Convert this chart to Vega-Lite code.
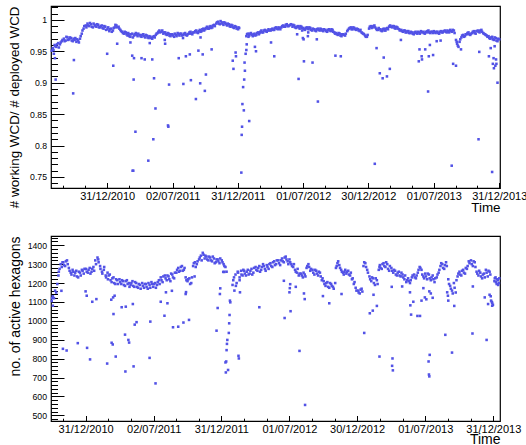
{
  "$schema": "https://vega.github.io/schema/vega-lite/v6.json",
  "padding": {"left": 6, "top": 5, "right": 0, "bottom": 0},
  "bounds": "flush",
  "spacing": 48,
  "config": {
    "view": {"stroke": "#000", "strokeWidth": 1.2},
    "axis": {"grid": false, "domain": false, "labelFont": "Liberation Sans", "titleFont": "Liberation Sans", "labelColor": "#000", "titleColor": "#000", "tickColor": "#000", "titleFontWeight": "normal"}
  },
  "datasets": {
    "wcd": [
      {"t":"2010-07-29","v":0.951},
      {"t":"2010-08-01","v":0.955},{"t":"2010-08-06","v":0.960},{"t":"2010-08-11","v":0.957},{"t":"2010-08-16","v":0.963},{"t":"2010-08-21","v":0.961},{"t":"2010-08-26","v":0.966},
      {"t":"2010-09-01","v":0.970},{"t":"2010-09-06","v":0.967},{"t":"2010-09-11","v":0.972},{"t":"2010-09-16","v":0.969},{"t":"2010-09-21","v":0.971},{"t":"2010-09-26","v":0.966},
      {"t":"2010-10-01","v":0.968},{"t":"2010-10-06","v":0.965},{"t":"2010-10-11","v":0.967},{"t":"2010-10-16","v":0.970},{"t":"2010-10-21","v":0.978},{"t":"2010-10-26","v":0.986},
      {"t":"2010-11-01","v":0.991},{"t":"2010-11-06","v":0.994},{"t":"2010-11-11","v":0.990},{"t":"2010-11-16","v":0.993},{"t":"2010-11-21","v":0.988},{"t":"2010-11-26","v":0.992},
      {"t":"2010-12-01","v":0.989},{"t":"2010-12-06","v":0.992},{"t":"2010-12-11","v":0.988},{"t":"2010-12-16","v":0.991},{"t":"2010-12-21","v":0.986},{"t":"2010-12-26","v":0.989},
      {"t":"2011-01-01","v":0.985},{"t":"2011-01-06","v":0.982},{"t":"2011-01-11","v":0.986},{"t":"2011-01-16","v":0.983},{"t":"2011-01-21","v":0.988},{"t":"2011-01-26","v":0.991},
      {"t":"2011-02-01","v":0.989},{"t":"2011-02-06","v":0.984},{"t":"2011-02-11","v":0.981},{"t":"2011-02-16","v":0.978},{"t":"2011-02-21","v":0.980},{"t":"2011-02-26","v":0.975},
      {"t":"2011-03-01","v":0.977},{"t":"2011-03-06","v":0.973},{"t":"2011-03-11","v":0.978},{"t":"2011-03-16","v":0.975},{"t":"2011-03-21","v":0.979},{"t":"2011-03-26","v":0.974},
      {"t":"2011-04-01","v":0.976},{"t":"2011-04-06","v":0.973},{"t":"2011-04-11","v":0.977},{"t":"2011-04-16","v":0.972},{"t":"2011-04-21","v":0.975},{"t":"2011-04-26","v":0.971},
      {"t":"2011-05-01","v":0.973},{"t":"2011-05-06","v":0.970},{"t":"2011-05-11","v":0.974},{"t":"2011-05-16","v":0.976},{"t":"2011-05-21","v":0.979},{"t":"2011-05-26","v":0.983},
      {"t":"2011-06-01","v":0.981},{"t":"2011-06-06","v":0.978},{"t":"2011-06-11","v":0.980},{"t":"2011-06-16","v":0.976},{"t":"2011-06-21","v":0.978},{"t":"2011-06-26","v":0.974},
      {"t":"2011-07-01","v":0.977},{"t":"2011-07-06","v":0.973},{"t":"2011-07-11","v":0.976},{"t":"2011-07-16","v":0.979},{"t":"2011-07-21","v":0.975},{"t":"2011-07-26","v":0.978},
      {"t":"2011-08-01","v":0.976},{"t":"2011-08-06","v":0.979},{"t":"2011-08-11","v":0.975},{"t":"2011-08-16","v":0.978},{"t":"2011-08-21","v":0.981},{"t":"2011-08-26","v":0.977},
      {"t":"2011-09-01","v":0.980},{"t":"2011-09-06","v":0.983},{"t":"2011-09-11","v":0.979},{"t":"2011-09-16","v":0.984},{"t":"2011-09-21","v":0.982},{"t":"2011-09-26","v":0.986},
      {"t":"2011-10-01","v":0.985},{"t":"2011-10-06","v":0.989},{"t":"2011-10-11","v":0.986},{"t":"2011-10-16","v":0.990},{"t":"2011-10-21","v":0.988},{"t":"2011-10-26","v":0.992},
      {"t":"2011-11-01","v":0.994},{"t":"2011-11-06","v":0.997},{"t":"2011-11-11","v":0.993},{"t":"2011-11-16","v":0.996},{"t":"2011-11-21","v":0.992},{"t":"2011-11-26","v":0.995},
      {"t":"2011-12-01","v":0.991},{"t":"2011-12-06","v":0.993},{"t":"2011-12-11","v":0.989},{"t":"2011-12-16","v":0.991},{"t":"2011-12-21","v":0.987},{"t":"2011-12-26","v":0.989},
      {"t":"2012-01-01","v":0.985},{"t":"2012-01-04","v":0.987},{"t":"2012-01-24","v":0.974},{"t":"2012-01-28","v":0.978},
      {"t":"2012-02-01","v":0.975},{"t":"2012-02-06","v":0.979},{"t":"2012-02-11","v":0.974},{"t":"2012-02-16","v":0.978},{"t":"2012-02-21","v":0.976},{"t":"2012-02-26","v":0.980},
      {"t":"2012-03-01","v":0.979},{"t":"2012-03-06","v":0.983},{"t":"2012-03-11","v":0.980},{"t":"2012-03-16","v":0.984},{"t":"2012-03-21","v":0.981},{"t":"2012-03-26","v":0.985},
      {"t":"2012-04-01","v":0.983},{"t":"2012-04-06","v":0.986},{"t":"2012-04-11","v":0.984},{"t":"2012-04-16","v":0.988},{"t":"2012-04-21","v":0.985},{"t":"2012-04-26","v":0.987},
      {"t":"2012-05-01","v":0.988},{"t":"2012-05-06","v":0.991},{"t":"2012-05-11","v":0.989},{"t":"2012-05-16","v":0.993},{"t":"2012-05-21","v":0.990},{"t":"2012-05-26","v":0.992},
      {"t":"2012-06-01","v":0.989},{"t":"2012-06-06","v":0.991},{"t":"2012-06-11","v":0.987},{"t":"2012-06-16","v":0.990},{"t":"2012-06-21","v":0.986},{"t":"2012-06-26","v":0.989},
      {"t":"2012-07-01","v":0.987},{"t":"2012-07-06","v":0.984},{"t":"2012-07-11","v":0.988},{"t":"2012-07-16","v":0.985},{"t":"2012-07-21","v":0.987},{"t":"2012-07-26","v":0.983},
      {"t":"2012-08-01","v":0.985},{"t":"2012-08-06","v":0.982},{"t":"2012-08-11","v":0.986},{"t":"2012-08-16","v":0.983},{"t":"2012-08-21","v":0.985},{"t":"2012-08-26","v":0.982},
      {"t":"2012-09-01","v":0.984},{"t":"2012-09-06","v":0.981},{"t":"2012-09-11","v":0.985},{"t":"2012-09-16","v":0.982},{"t":"2012-09-21","v":0.984},{"t":"2012-09-26","v":0.980},
      {"t":"2012-10-01","v":0.979},{"t":"2012-10-06","v":0.976},{"t":"2012-10-11","v":0.978},{"t":"2012-10-16","v":0.974},{"t":"2012-10-21","v":0.977},{"t":"2012-10-26","v":0.975},
      {"t":"2012-11-01","v":0.982},{"t":"2012-11-06","v":0.986},{"t":"2012-11-11","v":0.988},{"t":"2012-11-16","v":0.985},{"t":"2012-11-21","v":0.987},{"t":"2012-11-26","v":0.984},
      {"t":"2012-12-01","v":0.985},{"t":"2012-12-06","v":0.982},{"t":"2012-12-11","v":0.980},{"t":"2012-12-16","v":0.978},{"t":"2012-12-21","v":0.975},{"t":"2012-12-26","v":0.973},
      {"t":"2013-01-01","v":0.986},{"t":"2013-01-06","v":0.990},{"t":"2013-01-11","v":0.988},{"t":"2013-01-16","v":0.991},{"t":"2013-01-21","v":0.986},{"t":"2013-01-26","v":0.984},
      {"t":"2013-02-01","v":0.985},{"t":"2013-02-06","v":0.982},{"t":"2013-02-11","v":0.986},{"t":"2013-02-16","v":0.983},{"t":"2013-02-21","v":0.987},{"t":"2013-02-26","v":0.989},
      {"t":"2013-03-01","v":0.991},{"t":"2013-03-06","v":0.988},{"t":"2013-03-11","v":0.990},{"t":"2013-03-16","v":0.986},{"t":"2013-03-21","v":0.988},{"t":"2013-03-26","v":0.985},
      {"t":"2013-04-01","v":0.984},{"t":"2013-04-06","v":0.981},{"t":"2013-04-11","v":0.983},{"t":"2013-04-16","v":0.980},{"t":"2013-04-21","v":0.982},{"t":"2013-04-26","v":0.979},
      {"t":"2013-05-01","v":0.980},{"t":"2013-05-06","v":0.977},{"t":"2013-05-11","v":0.981},{"t":"2013-05-16","v":0.978},{"t":"2013-05-21","v":0.980},{"t":"2013-05-26","v":0.982},
      {"t":"2013-06-01","v":0.981},{"t":"2013-06-06","v":0.978},{"t":"2013-06-11","v":0.980},{"t":"2013-06-16","v":0.983},{"t":"2013-06-21","v":0.979},{"t":"2013-06-26","v":0.981},
      {"t":"2013-07-01","v":0.982},{"t":"2013-07-06","v":0.979},{"t":"2013-07-11","v":0.981},{"t":"2013-07-16","v":0.978},{"t":"2013-07-21","v":0.982},{"t":"2013-07-26","v":0.980},
      {"t":"2013-08-01","v":0.983},{"t":"2013-08-06","v":0.980},{"t":"2013-08-11","v":0.982},{"t":"2013-08-16","v":0.984},{"t":"2013-08-21","v":0.981},{"t":"2013-08-26","v":0.983},
      {"t":"2013-09-01","v":0.968},{"t":"2013-09-04","v":0.962},{"t":"2013-09-08","v":0.957},{"t":"2013-09-11","v":0.965},{"t":"2013-09-16","v":0.972},{"t":"2013-09-21","v":0.976},{"t":"2013-09-26","v":0.974},
      {"t":"2013-10-01","v":0.977},{"t":"2013-10-06","v":0.980},{"t":"2013-10-11","v":0.976},{"t":"2013-10-16","v":0.979},{"t":"2013-10-21","v":0.982},{"t":"2013-10-26","v":0.978},
      {"t":"2013-11-01","v":0.983},{"t":"2013-11-06","v":0.980},{"t":"2013-11-11","v":0.984},{"t":"2013-11-16","v":0.979},{"t":"2013-11-21","v":0.977},{"t":"2013-11-26","v":0.975},
      {"t":"2013-12-01","v":0.974},{"t":"2013-12-06","v":0.970},{"t":"2013-12-11","v":0.973},{"t":"2013-12-16","v":0.968},{"t":"2013-12-21","v":0.971},{"t":"2013-12-26","v":0.966},{"t":"2013-12-31","v":0.969},
      {"t":"2010-08-03","v":0.952},{"t":"2010-08-08","v":0.958},{"t":"2010-08-13","v":0.961},{"t":"2010-08-18","v":0.956},{"t":"2010-08-23","v":0.964},{"t":"2010-08-28","v":0.968},
      {"t":"2010-09-03","v":0.966},{"t":"2010-09-08","v":0.973},{"t":"2010-09-13","v":0.968},{"t":"2010-09-18","v":0.972},{"t":"2010-09-23","v":0.967},{"t":"2010-09-28","v":0.970},
      {"t":"2010-10-03","v":0.971},{"t":"2010-10-08","v":0.969},{"t":"2010-10-13","v":0.964},{"t":"2010-10-18","v":0.974},{"t":"2010-10-23","v":0.983},{"t":"2010-10-28","v":0.990},
      {"t":"2010-11-03","v":0.988},{"t":"2010-11-08","v":0.991},{"t":"2010-11-13","v":0.995},{"t":"2010-11-18","v":0.989},{"t":"2010-11-23","v":0.994},{"t":"2010-11-28","v":0.990},
      {"t":"2010-12-03","v":0.993},{"t":"2010-12-08","v":0.988},{"t":"2010-12-13","v":0.990},{"t":"2010-12-18","v":0.987},{"t":"2010-12-23","v":0.990},{"t":"2010-12-28","v":0.984},
      {"t":"2011-01-03","v":0.988},{"t":"2011-01-08","v":0.985},{"t":"2011-01-13","v":0.981},{"t":"2011-01-18","v":0.987},{"t":"2011-01-23","v":0.992},{"t":"2011-01-28","v":0.988},
      {"t":"2011-02-03","v":0.986},{"t":"2011-02-08","v":0.982},{"t":"2011-02-13","v":0.979},{"t":"2011-02-18","v":0.981},{"t":"2011-02-23","v":0.977},{"t":"2011-02-28","v":0.979},
      {"t":"2011-03-03","v":0.974},{"t":"2011-03-08","v":0.977},{"t":"2011-03-13","v":0.972},{"t":"2011-03-18","v":0.977},{"t":"2011-03-23","v":0.976},{"t":"2011-03-28","v":0.978},
      {"t":"2011-04-03","v":0.974},{"t":"2011-04-08","v":0.976},{"t":"2011-04-13","v":0.974},{"t":"2011-04-18","v":0.976},{"t":"2011-04-23","v":0.972},{"t":"2011-04-28","v":0.974},
      {"t":"2011-05-03","v":0.971},{"t":"2011-05-08","v":0.973},{"t":"2011-05-13","v":0.972},{"t":"2011-05-18","v":0.978},{"t":"2011-05-23","v":0.981},{"t":"2011-05-28","v":0.980},
      {"t":"2011-06-03","v":0.983},{"t":"2011-06-08","v":0.980},{"t":"2011-06-13","v":0.977},{"t":"2011-06-18","v":0.979},{"t":"2011-06-23","v":0.975},{"t":"2011-06-28","v":0.977},
      {"t":"2011-07-03","v":0.975},{"t":"2011-07-08","v":0.978},{"t":"2011-07-13","v":0.974},{"t":"2011-07-18","v":0.977},{"t":"2011-07-23","v":0.978},{"t":"2011-07-28","v":0.975},
      {"t":"2011-08-03","v":0.978},{"t":"2011-08-08","v":0.976},{"t":"2011-08-13","v":0.977},{"t":"2011-08-18","v":0.980},{"t":"2011-08-23","v":0.978},{"t":"2011-08-28","v":0.980},
      {"t":"2011-09-03","v":0.982},{"t":"2011-09-08","v":0.980},{"t":"2011-09-13","v":0.982},{"t":"2011-09-18","v":0.981},{"t":"2011-09-23","v":0.985},{"t":"2011-09-28","v":0.983},
      {"t":"2011-10-03","v":0.987},{"t":"2011-10-08","v":0.986},{"t":"2011-10-13","v":0.989},{"t":"2011-10-18","v":0.987},{"t":"2011-10-23","v":0.991},{"t":"2011-10-28","v":0.990},
      {"t":"2011-11-03","v":0.996},{"t":"2011-11-08","v":0.994},{"t":"2011-11-13","v":0.998},{"t":"2011-11-18","v":0.994},{"t":"2011-11-23","v":0.996},{"t":"2011-11-28","v":0.993},
      {"t":"2011-12-03","v":0.994},{"t":"2011-12-08","v":0.990},{"t":"2011-12-13","v":0.992},{"t":"2011-12-18","v":0.988},{"t":"2011-12-23","v":0.990},{"t":"2011-12-28","v":0.986},
      {"t":"2012-01-02","v":0.988},{"t":"2012-01-26","v":0.977},{"t":"2012-01-30","v":0.973},
      {"t":"2012-02-03","v":0.978},{"t":"2012-02-08","v":0.976},{"t":"2012-02-13","v":0.977},{"t":"2012-02-18","v":0.975},{"t":"2012-02-23","v":0.979},{"t":"2012-02-28","v":0.977},
      {"t":"2012-03-03","v":0.981},{"t":"2012-03-08","v":0.980},{"t":"2012-03-13","v":0.983},{"t":"2012-03-18","v":0.982},{"t":"2012-03-23","v":0.983},{"t":"2012-03-28","v":0.983},
      {"t":"2012-04-03","v":0.985},{"t":"2012-04-08","v":0.984},{"t":"2012-04-13","v":0.987},{"t":"2012-04-18","v":0.986},{"t":"2012-04-23","v":0.988},{"t":"2012-04-28","v":0.985},
      {"t":"2012-05-03","v":0.990},{"t":"2012-05-08","v":0.989},{"t":"2012-05-13","v":0.992},{"t":"2012-05-18","v":0.990},{"t":"2012-05-23","v":0.991},{"t":"2012-05-28","v":0.993},
      {"t":"2012-06-03","v":0.992},{"t":"2012-06-08","v":0.988},{"t":"2012-06-13","v":0.989},{"t":"2012-06-18","v":0.988},{"t":"2012-06-23","v":0.990},{"t":"2012-06-28","v":0.987},
      {"t":"2012-07-03","v":0.985},{"t":"2012-07-08","v":0.987},{"t":"2012-07-13","v":0.986},{"t":"2012-07-18","v":0.988},{"t":"2012-07-23","v":0.984},{"t":"2012-07-28","v":0.986},
      {"t":"2012-08-03","v":0.983},{"t":"2012-08-08","v":0.985},{"t":"2012-08-13","v":0.984},{"t":"2012-08-18","v":0.986},{"t":"2012-08-23","v":0.983},{"t":"2012-08-28","v":0.985},
      {"t":"2012-09-03","v":0.982},{"t":"2012-09-08","v":0.984},{"t":"2012-09-13","v":0.983},{"t":"2012-09-18","v":0.985},{"t":"2012-09-23","v":0.981},{"t":"2012-09-28","v":0.978},
      {"t":"2012-10-03","v":0.977},{"t":"2012-10-08","v":0.979},{"t":"2012-10-13","v":0.975},{"t":"2012-10-18","v":0.977},{"t":"2012-10-23","v":0.976},{"t":"2012-10-28","v":0.978},
      {"t":"2012-11-03","v":0.984},{"t":"2012-11-08","v":0.987},{"t":"2012-11-13","v":0.985},{"t":"2012-11-18","v":0.988},{"t":"2012-11-23","v":0.985},{"t":"2012-11-28","v":0.986},
      {"t":"2012-12-03","v":0.983},{"t":"2012-12-08","v":0.984},{"t":"2012-12-13","v":0.979},{"t":"2012-12-18","v":0.977},{"t":"2012-12-23","v":0.973},{"t":"2012-12-28","v":0.976},
      {"t":"2013-01-03","v":0.989},{"t":"2013-01-08","v":0.987},{"t":"2013-01-13","v":0.990},{"t":"2013-01-18","v":0.988},{"t":"2013-01-23","v":0.984},{"t":"2013-01-28","v":0.987},
      {"t":"2013-02-03","v":0.983},{"t":"2013-02-08","v":0.985},{"t":"2013-02-13","v":0.983},{"t":"2013-02-18","v":0.986},{"t":"2013-02-23","v":0.985},{"t":"2013-02-28","v":0.990},
      {"t":"2013-03-03","v":0.989},{"t":"2013-03-08","v":0.990},{"t":"2013-03-13","v":0.987},{"t":"2013-03-18","v":0.989},{"t":"2013-03-23","v":0.986},{"t":"2013-03-28","v":0.983},
      {"t":"2013-04-03","v":0.982},{"t":"2013-04-08","v":0.983},{"t":"2013-04-13","v":0.980},{"t":"2013-04-18","v":0.982},{"t":"2013-04-23","v":0.979},{"t":"2013-04-28","v":0.981},
      {"t":"2013-05-03","v":0.978},{"t":"2013-05-08","v":0.980},{"t":"2013-05-13","v":0.979},{"t":"2013-05-18","v":0.981},{"t":"2013-05-23","v":0.978},{"t":"2013-05-28","v":0.980},
      {"t":"2013-06-03","v":0.979},{"t":"2013-06-08","v":0.981},{"t":"2013-06-13","v":0.982},{"t":"2013-06-18","v":0.980},{"t":"2013-06-23","v":0.981},{"t":"2013-06-28","v":0.979},
      {"t":"2013-07-03","v":0.980},{"t":"2013-07-08","v":0.981},{"t":"2013-07-13","v":0.979},{"t":"2013-07-18","v":0.981},{"t":"2013-07-23","v":0.980},{"t":"2013-07-28","v":0.982},
      {"t":"2013-08-03","v":0.981},{"t":"2013-08-08","v":0.983},{"t":"2013-08-13","v":0.980},{"t":"2013-08-18","v":0.982},{"t":"2013-08-23","v":0.984},{"t":"2013-08-28","v":0.979},
      {"t":"2013-09-03","v":0.965},{"t":"2013-09-06","v":0.959},{"t":"2013-09-13","v":0.969},{"t":"2013-09-18","v":0.975},{"t":"2013-09-23","v":0.973},{"t":"2013-09-28","v":0.977},
      {"t":"2013-10-03","v":0.979},{"t":"2013-10-08","v":0.977},{"t":"2013-10-13","v":0.978},{"t":"2013-10-18","v":0.981},{"t":"2013-10-23","v":0.979},{"t":"2013-10-28","v":0.982},
      {"t":"2013-11-03","v":0.981},{"t":"2013-11-08","v":0.983},{"t":"2013-11-13","v":0.981},{"t":"2013-11-18","v":0.978},{"t":"2013-11-23","v":0.976},{"t":"2013-11-28","v":0.973},
      {"t":"2013-12-03","v":0.971},{"t":"2013-12-08","v":0.972},{"t":"2013-12-13","v":0.969},{"t":"2013-12-18","v":0.972},{"t":"2013-12-23","v":0.967},{"t":"2013-12-28","v":0.970},
      {"t":"2010-08-04","v":0.946},{"t":"2010-08-07","v":0.939},{"t":"2010-08-09","v":0.905},{"t":"2010-09-29","v":0.936},{"t":"2010-09-27","v":0.883},
      {"t":"2010-12-31","v":0.946},{"t":"2011-01-17","v":0.927},{"t":"2011-01-28","v":0.962},{"t":"2011-03-06","v":0.964},{"t":"2011-03-11","v":0.943},
      {"t":"2011-03-16","v":0.939},{"t":"2011-03-15","v":0.905},{"t":"2011-03-20","v":0.822},{"t":"2011-03-12","v":0.760},{"t":"2011-03-14","v":0.760},
      {"t":"2011-04-06","v":0.939},{"t":"2011-04-15","v":0.937},{"t":"2011-04-29","v":0.963},{"t":"2011-05-06","v":0.937},{"t":"2011-05-11","v":0.907},
      {"t":"2011-05-15","v":0.859},{"t":"2011-05-09","v":0.810},{"t":"2011-04-25","v":0.776},{"t":"2011-06-10","v":0.968},{"t":"2011-06-11","v":0.962},
      {"t":"2011-07-19","v":0.939},{"t":"2011-08-08","v":0.942},{"t":"2011-08-19","v":0.945},{"t":"2011-09-12","v":0.951},{"t":"2011-09-24","v":0.945},
      {"t":"2011-10-19","v":0.953},{"t":"2011-09-18","v":0.972},{"t":"2011-07-31","v":0.971},{"t":"2011-06-22","v":0.897},{"t":"2011-08-01","v":0.898},
      {"t":"2011-08-22","v":0.904},{"t":"2011-09-17","v":0.899},{"t":"2011-10-03","v":0.913},{"t":"2011-09-30","v":0.887},{"t":"2011-09-05","v":0.874},
      {"t":"2011-06-19","v":0.832},{"t":"2011-06-20","v":0.830},{"t":"2011-12-17","v":0.935},{"t":"2011-12-19","v":0.922},{"t":"2011-12-25","v":0.948},
      {"t":"2011-12-26","v":0.942},{"t":"2012-01-25","v":0.961},{"t":"2012-01-24","v":0.952},{"t":"2012-01-22","v":0.946},{"t":"2012-01-19","v":0.932},
      {"t":"2012-01-20","v":0.919},{"t":"2012-01-18","v":0.905},{"t":"2012-01-15","v":0.893},{"t":"2012-01-13","v":0.866},{"t":"2012-01-17","v":0.856},
      {"t":"2012-01-12","v":0.830},{"t":"2012-01-11","v":0.817},{"t":"2012-01-10","v":0.757},{"t":"2012-02-01","v":0.839},{"t":"2012-02-17","v":0.957},
      {"t":"2012-02-20","v":0.950},{"t":"2012-04-02","v":0.964},{"t":"2012-04-11","v":0.942},{"t":"2012-06-14","v":0.977},{"t":"2012-06-30","v":0.971},
      {"t":"2012-07-02","v":0.969},{"t":"2012-07-14","v":0.974},{"t":"2012-07-15","v":0.980},{"t":"2012-06-28","v":0.983},{"t":"2012-08-08","v":0.969},
      {"t":"2012-07-03","v":0.934},{"t":"2012-07-27","v":0.932},{"t":"2012-06-18","v":0.906},{"t":"2012-08-11","v":0.870},{"t":"2012-09-29","v":0.943},
      {"t":"2012-10-14","v":0.942},{"t":"2013-01-22","v":0.955},{"t":"2013-02-11","v":0.940},{"t":"2013-01-31","v":0.915},{"t":"2013-02-08","v":0.907},
      {"t":"2013-02-20","v":0.910},{"t":"2013-01-17","v":0.771},{"t":"2013-02-28","v":0.922},{"t":"2013-03-31","v":0.968},{"t":"2013-05-22","v":0.953},
      {"t":"2013-06-07","v":0.953},{"t":"2013-05-28","v":0.942},{"t":"2013-05-29","v":0.937},{"t":"2013-05-20","v":0.934},{"t":"2013-06-17","v":0.942},
      {"t":"2013-06-29","v":0.944},{"t":"2013-06-20","v":0.960},{"t":"2013-07-09","v":0.966},{"t":"2013-07-20","v":0.967},{"t":"2013-06-15","v":0.886},
      {"t":"2013-08-24","v":0.930},{"t":"2013-09-01","v":0.927},{"t":"2013-09-15","v":0.953},{"t":"2013-08-20","v":0.768},{"t":"2013-11-05","v":0.949},
      {"t":"2013-11-03","v":0.810},{"t":"2013-12-02","v":0.942},{"t":"2013-12-15","v":0.939},{"t":"2013-12-22","v":0.937},{"t":"2013-12-13","v":0.930},
      {"t":"2013-12-20","v":0.927},{"t":"2013-12-16","v":0.923},{"t":"2013-12-23","v":0.930},{"t":"2013-12-26","v":0.900},{"t":"2013-12-11","v":0.758},
      {"t":"2013-12-07","v":0.955},{"t":"2013-12-18","v":0.958}
    ],
    "hex": [
      {"t":"2010-10-01","n":1105},{"t":"2010-10-04","n":1130},{"t":"2010-10-07","n":1120},{"t":"2010-10-10","n":1160},{"t":"2010-10-13","n":1150},{"t":"2010-10-16","n":1195},{"t":"2010-10-19","n":1240},{"t":"2010-10-22","n":1275},{"t":"2010-10-25","n":1300},{"t":"2010-10-28","n":1285},
      {"t":"2010-11-01","n":1310},{"t":"2010-11-06","n":1290},{"t":"2010-11-11","n":1320},{"t":"2010-11-16","n":1280},{"t":"2010-11-21","n":1255},{"t":"2010-11-26","n":1270},
      {"t":"2010-12-01","n":1240},{"t":"2010-12-06","n":1265},{"t":"2010-12-11","n":1230},{"t":"2010-12-16","n":1255},{"t":"2010-12-21","n":1270},{"t":"2010-12-26","n":1250},
      {"t":"2011-01-01","n":1275},{"t":"2011-01-06","n":1255},{"t":"2011-01-11","n":1280},{"t":"2011-01-16","n":1260},{"t":"2011-01-21","n":1285},{"t":"2011-01-26","n":1320},
      {"t":"2011-02-01","n":1335},{"t":"2011-02-04","n":1310},{"t":"2011-02-09","n":1275},{"t":"2011-02-14","n":1250},{"t":"2011-02-19","n":1285},{"t":"2011-02-24","n":1230},
      {"t":"2011-03-01","n":1220},{"t":"2011-03-06","n":1245},{"t":"2011-03-11","n":1205},{"t":"2011-03-16","n":1230},{"t":"2011-03-21","n":1195},{"t":"2011-03-26","n":1215},
      {"t":"2011-04-01","n":1220},{"t":"2011-04-06","n":1195},{"t":"2011-04-11","n":1210},{"t":"2011-04-16","n":1185},{"t":"2011-04-21","n":1215},{"t":"2011-04-26","n":1200},
      {"t":"2011-05-01","n":1190},{"t":"2011-05-06","n":1210},{"t":"2011-05-11","n":1180},{"t":"2011-05-16","n":1200},{"t":"2011-05-21","n":1175},{"t":"2011-05-26","n":1190},
      {"t":"2011-06-01","n":1200},{"t":"2011-06-06","n":1175},{"t":"2011-06-11","n":1195},{"t":"2011-06-16","n":1170},{"t":"2011-06-21","n":1190},{"t":"2011-06-26","n":1205},
      {"t":"2011-07-01","n":1180},{"t":"2011-07-06","n":1200},{"t":"2011-07-11","n":1190},{"t":"2011-07-16","n":1215},{"t":"2011-07-21","n":1230},{"t":"2011-07-26","n":1205},
      {"t":"2011-08-01","n":1240},{"t":"2011-08-06","n":1215},{"t":"2011-08-11","n":1235},{"t":"2011-08-16","n":1210},{"t":"2011-08-21","n":1245},{"t":"2011-08-26","n":1225},
      {"t":"2011-09-01","n":1255},{"t":"2011-09-06","n":1280},{"t":"2011-09-11","n":1265},{"t":"2011-09-16","n":1290},{"t":"2011-09-21","n":1270},{"t":"2011-09-26","n":1230},
      {"t":"2011-10-01","n":1210},{"t":"2011-10-06","n":1225},{"t":"2011-10-11","n":1200},{"t":"2011-10-16","n":1290},{"t":"2011-10-21","n":1310},{"t":"2011-10-26","n":1300},
      {"t":"2011-11-01","n":1325},{"t":"2011-11-06","n":1345},{"t":"2011-11-11","n":1360},{"t":"2011-11-16","n":1330},{"t":"2011-11-21","n":1340},{"t":"2011-11-26","n":1320},
      {"t":"2011-12-01","n":1335},{"t":"2011-12-06","n":1315},{"t":"2011-12-11","n":1330},{"t":"2011-12-16","n":1310},{"t":"2011-12-21","n":1325},{"t":"2011-12-26","n":1305},
      {"t":"2012-01-01","n":1320},{"t":"2012-01-06","n":1300},{"t":"2012-01-11","n":1285},{"t":"2012-01-14","n":1260},{"t":"2012-01-30","n":1190},
      {"t":"2012-02-01","n":1215},{"t":"2012-02-04","n":1160},{"t":"2012-02-07","n":1245},{"t":"2012-02-10","n":1200},{"t":"2012-02-14","n":1255},{"t":"2012-02-18","n":1230},{"t":"2012-02-22","n":1265},{"t":"2012-02-26","n":1240},
      {"t":"2012-03-01","n":1265},{"t":"2012-03-06","n":1240},{"t":"2012-03-11","n":1270},{"t":"2012-03-16","n":1250},{"t":"2012-03-21","n":1275},{"t":"2012-03-26","n":1255},
      {"t":"2012-04-01","n":1285},{"t":"2012-04-06","n":1265},{"t":"2012-04-11","n":1290},{"t":"2012-04-16","n":1270},{"t":"2012-04-21","n":1300},{"t":"2012-04-26","n":1275},
      {"t":"2012-05-01","n":1295},{"t":"2012-05-06","n":1275},{"t":"2012-05-11","n":1305},{"t":"2012-05-16","n":1285},{"t":"2012-05-21","n":1315},{"t":"2012-05-26","n":1300},
      {"t":"2012-06-01","n":1320},{"t":"2012-06-06","n":1295},{"t":"2012-06-11","n":1330},{"t":"2012-06-16","n":1310},{"t":"2012-06-21","n":1340},{"t":"2012-06-26","n":1315},
      {"t":"2012-07-01","n":1325},{"t":"2012-07-06","n":1300},{"t":"2012-07-11","n":1285},{"t":"2012-07-16","n":1270},{"t":"2012-07-21","n":1255},{"t":"2012-07-26","n":1240},
      {"t":"2012-08-01","n":1250},{"t":"2012-08-06","n":1230},{"t":"2012-08-11","n":1245},{"t":"2012-08-16","n":1280},{"t":"2012-08-21","n":1300},{"t":"2012-08-26","n":1265},
      {"t":"2012-09-01","n":1270},{"t":"2012-09-06","n":1245},{"t":"2012-09-11","n":1265},{"t":"2012-09-16","n":1240},{"t":"2012-09-21","n":1255},{"t":"2012-09-26","n":1215},
      {"t":"2012-10-01","n":1210},{"t":"2012-10-06","n":1185},{"t":"2012-10-11","n":1205},{"t":"2012-10-16","n":1175},{"t":"2012-10-21","n":1195},{"t":"2012-10-26","n":1180},
      {"t":"2012-11-01","n":1200},{"t":"2012-11-05","n":1290},{"t":"2012-11-09","n":1315},{"t":"2012-11-14","n":1280},{"t":"2012-11-19","n":1260},{"t":"2012-11-24","n":1245},{"t":"2012-11-28","n":1270},
      {"t":"2012-12-01","n":1250},{"t":"2012-12-06","n":1265},{"t":"2012-12-11","n":1240},{"t":"2012-12-16","n":1220},{"t":"2012-12-21","n":1195},{"t":"2012-12-26","n":1175},
      {"t":"2013-01-01","n":1160},{"t":"2013-01-06","n":1145},{"t":"2013-01-11","n":1170},{"t":"2013-01-16","n":1290},{"t":"2013-01-21","n":1305},{"t":"2013-01-26","n":1270},
      {"t":"2013-02-01","n":1235},{"t":"2013-02-06","n":1210},{"t":"2013-02-11","n":1225},{"t":"2013-02-16","n":1190},{"t":"2013-02-21","n":1215},{"t":"2013-02-26","n":1270},
      {"t":"2013-03-01","n":1295},{"t":"2013-03-06","n":1275},{"t":"2013-03-11","n":1305},{"t":"2013-03-16","n":1285},{"t":"2013-03-21","n":1300},{"t":"2013-03-26","n":1265},
      {"t":"2013-04-01","n":1280},{"t":"2013-04-06","n":1255},{"t":"2013-04-11","n":1265},{"t":"2013-04-16","n":1240},{"t":"2013-04-21","n":1260},{"t":"2013-04-26","n":1235},
      {"t":"2013-05-01","n":1245},{"t":"2013-05-06","n":1220},{"t":"2013-05-11","n":1205},{"t":"2013-05-16","n":1225},{"t":"2013-05-21","n":1200},{"t":"2013-05-26","n":1230},
      {"t":"2013-06-01","n":1245},{"t":"2013-06-06","n":1225},{"t":"2013-06-11","n":1255},{"t":"2013-06-16","n":1285},{"t":"2013-06-21","n":1270},{"t":"2013-06-26","n":1235},
      {"t":"2013-07-01","n":1250},{"t":"2013-07-06","n":1220},{"t":"2013-07-11","n":1245},{"t":"2013-07-16","n":1215},{"t":"2013-07-21","n":1240},{"t":"2013-07-26","n":1205},
      {"t":"2013-08-01","n":1230},{"t":"2013-08-06","n":1255},{"t":"2013-08-11","n":1290},{"t":"2013-08-16","n":1300},{"t":"2013-08-21","n":1275},{"t":"2013-08-26","n":1310},
      {"t":"2013-09-01","n":1220},{"t":"2013-09-06","n":1185},{"t":"2013-09-11","n":1160},{"t":"2013-09-16","n":1200},{"t":"2013-09-21","n":1150},{"t":"2013-09-26","n":1235},
      {"t":"2013-10-01","n":1260},{"t":"2013-10-06","n":1240},{"t":"2013-10-11","n":1270},{"t":"2013-10-16","n":1250},{"t":"2013-10-21","n":1275},{"t":"2013-10-28","n":1305},
      {"t":"2013-11-01","n":1320},{"t":"2013-11-06","n":1290},{"t":"2013-11-11","n":1310},{"t":"2013-11-16","n":1260},{"t":"2013-11-21","n":1240},{"t":"2013-11-26","n":1255},
      {"t":"2013-12-01","n":1225},{"t":"2013-12-06","n":1250},{"t":"2013-12-11","n":1270},{"t":"2013-12-16","n":1235},{"t":"2013-12-21","n":1260},{"t":"2013-12-24","n":1130},{"t":"2013-12-27","n":1100},{"t":"2013-12-30","n":1085},
      {"t":"2014-01-03","n":1210},{"t":"2014-01-06","n":1230},{"t":"2014-01-09","n":1195},{"t":"2014-01-12","n":1215},{"t":"2014-01-15","n":1200},
      {"t":"2010-10-02","n":1120},{"t":"2010-10-20","n":1260},{"t":"2010-10-30","n":1310},
      {"t":"2010-11-03","n":1295},{"t":"2010-11-08","n":1315},{"t":"2010-11-13","n":1300},{"t":"2010-11-18","n":1265},{"t":"2010-11-23","n":1245},{"t":"2010-11-28","n":1260},
      {"t":"2010-12-03","n":1255},{"t":"2010-12-08","n":1235},{"t":"2010-12-13","n":1260},{"t":"2010-12-18","n":1240},{"t":"2010-12-23","n":1265},{"t":"2010-12-28","n":1275},
      {"t":"2011-01-03","n":1260},{"t":"2011-01-08","n":1270},{"t":"2011-01-13","n":1250},{"t":"2011-01-18","n":1275},{"t":"2011-01-23","n":1265},{"t":"2011-01-28","n":1300},
      {"t":"2011-02-03","n":1325},{"t":"2011-02-08","n":1290},{"t":"2011-02-13","n":1260},{"t":"2011-02-18","n":1270},{"t":"2011-02-23","n":1240},{"t":"2011-02-28","n":1255},
      {"t":"2011-03-03","n":1240},{"t":"2011-03-08","n":1215},{"t":"2011-03-13","n":1225},{"t":"2011-03-18","n":1200},{"t":"2011-03-23","n":1220},{"t":"2011-03-28","n":1195},
      {"t":"2011-04-03","n":1205},{"t":"2011-04-08","n":1215},{"t":"2011-04-13","n":1190},{"t":"2011-04-18","n":1210},{"t":"2011-04-23","n":1195},{"t":"2011-04-28","n":1180},
      {"t":"2011-05-03","n":1200},{"t":"2011-05-08","n":1185},{"t":"2011-05-13","n":1205},{"t":"2011-05-18","n":1180},{"t":"2011-05-23","n":1195},{"t":"2011-05-28","n":1170},
      {"t":"2011-06-03","n":1185},{"t":"2011-06-08","n":1195},{"t":"2011-06-13","n":1180},{"t":"2011-06-18","n":1200},{"t":"2011-06-23","n":1175},{"t":"2011-06-28","n":1195},
      {"t":"2011-07-03","n":1195},{"t":"2011-07-08","n":1175},{"t":"2011-07-13","n":1205},{"t":"2011-07-18","n":1195},{"t":"2011-07-23","n":1215},{"t":"2011-07-28","n":1235},
      {"t":"2011-08-03","n":1225},{"t":"2011-08-08","n":1240},{"t":"2011-08-13","n":1220},{"t":"2011-08-18","n":1250},{"t":"2011-08-23","n":1230},{"t":"2011-08-28","n":1255},
      {"t":"2011-09-03","n":1270},{"t":"2011-09-08","n":1260},{"t":"2011-09-13","n":1285},{"t":"2011-09-18","n":1265},{"t":"2011-09-23","n":1280},{"t":"2011-09-28","n":1215},
      {"t":"2011-10-03","n":1220},{"t":"2011-10-08","n":1195},{"t":"2011-10-13","n":1230},{"t":"2011-10-18","n":1305},{"t":"2011-10-23","n":1285},{"t":"2011-10-28","n":1315},
      {"t":"2011-11-03","n":1335},{"t":"2011-11-08","n":1320},{"t":"2011-11-13","n":1350},{"t":"2011-11-18","n":1345},{"t":"2011-11-23","n":1325},{"t":"2011-11-28","n":1340},
      {"t":"2011-12-03","n":1320},{"t":"2011-12-08","n":1340},{"t":"2011-12-13","n":1305},{"t":"2011-12-18","n":1325},{"t":"2011-12-23","n":1315},{"t":"2011-12-28","n":1330},
      {"t":"2012-01-03","n":1310},{"t":"2012-01-08","n":1290},
      {"t":"2012-02-03","n":1230},{"t":"2012-02-08","n":1185},{"t":"2012-02-13","n":1260},{"t":"2012-02-18","n":1215},{"t":"2012-02-23","n":1245},{"t":"2012-02-28","n":1270},
      {"t":"2012-03-03","n":1250},{"t":"2012-03-08","n":1260},{"t":"2012-03-13","n":1245},{"t":"2012-03-18","n":1265},{"t":"2012-03-23","n":1245},{"t":"2012-03-28","n":1280},
      {"t":"2012-04-03","n":1270},{"t":"2012-04-08","n":1280},{"t":"2012-04-13","n":1260},{"t":"2012-04-18","n":1285},{"t":"2012-04-23","n":1290},{"t":"2012-04-28","n":1265},
      {"t":"2012-05-03","n":1285},{"t":"2012-05-08","n":1300},{"t":"2012-05-13","n":1290},{"t":"2012-05-18","n":1310},{"t":"2012-05-23","n":1295},{"t":"2012-05-28","n":1320},
      {"t":"2012-06-03","n":1305},{"t":"2012-06-08","n":1320},{"t":"2012-06-13","n":1315},{"t":"2012-06-18","n":1335},{"t":"2012-06-23","n":1325},{"t":"2012-06-28","n":1300},
      {"t":"2012-07-03","n":1310},{"t":"2012-07-08","n":1290},{"t":"2012-07-13","n":1300},{"t":"2012-07-18","n":1260},{"t":"2012-07-23","n":1275},{"t":"2012-07-28","n":1250},
      {"t":"2012-08-03","n":1240},{"t":"2012-08-08","n":1255},{"t":"2012-08-13","n":1235},{"t":"2012-08-18","n":1290},{"t":"2012-08-23","n":1285},{"t":"2012-08-28","n":1275},
      {"t":"2012-09-03","n":1255},{"t":"2012-09-08","n":1270},{"t":"2012-09-13","n":1250},{"t":"2012-09-18","n":1260},{"t":"2012-09-23","n":1235},{"t":"2012-09-28","n":1225},
      {"t":"2012-10-03","n":1195},{"t":"2012-10-08","n":1200},{"t":"2012-10-13","n":1180},{"t":"2012-10-18","n":1200},{"t":"2012-10-23","n":1185},{"t":"2012-10-28","n":1170},
      {"t":"2012-11-03","n":1280},{"t":"2012-11-07","n":1305},{"t":"2012-11-12","n":1295},{"t":"2012-11-17","n":1270},{"t":"2012-11-22","n":1255},{"t":"2012-11-26","n":1260},
      {"t":"2012-12-03","n":1260},{"t":"2012-12-08","n":1245},{"t":"2012-12-13","n":1255},{"t":"2012-12-18","n":1225},{"t":"2012-12-23","n":1205},{"t":"2012-12-28","n":1160},
      {"t":"2013-01-03","n":1150},{"t":"2013-01-08","n":1165},{"t":"2013-01-13","n":1155},{"t":"2013-01-18","n":1310},{"t":"2013-01-23","n":1285},{"t":"2013-01-28","n":1255},
      {"t":"2013-02-03","n":1220},{"t":"2013-02-08","n":1230},{"t":"2013-02-13","n":1200},{"t":"2013-02-18","n":1225},{"t":"2013-02-23","n":1195},{"t":"2013-02-28","n":1285},
      {"t":"2013-03-03","n":1280},{"t":"2013-03-08","n":1300},{"t":"2013-03-13","n":1290},{"t":"2013-03-18","n":1310},{"t":"2013-03-23","n":1275},{"t":"2013-03-28","n":1290},
      {"t":"2013-04-03","n":1265},{"t":"2013-04-08","n":1270},{"t":"2013-04-13","n":1245},{"t":"2013-04-18","n":1255},{"t":"2013-04-23","n":1240},{"t":"2013-04-28","n":1255},
      {"t":"2013-05-03","n":1230},{"t":"2013-05-08","n":1240},{"t":"2013-05-13","n":1215},{"t":"2013-05-18","n":1210},{"t":"2013-05-23","n":1215},{"t":"2013-05-28","n":1240},
      {"t":"2013-06-03","n":1230},{"t":"2013-06-08","n":1240},{"t":"2013-06-13","n":1270},{"t":"2013-06-18","n":1280},{"t":"2013-06-23","n":1245},{"t":"2013-06-28","n":1225},
      {"t":"2013-07-03","n":1235},{"t":"2013-07-08","n":1250},{"t":"2013-07-13","n":1225},{"t":"2013-07-18","n":1230},{"t":"2013-07-23","n":1220},{"t":"2013-07-28","n":1225},
      {"t":"2013-08-03","n":1245},{"t":"2013-08-08","n":1270},{"t":"2013-08-13","n":1305},{"t":"2013-08-18","n":1280},{"t":"2013-08-23","n":1295},{"t":"2013-08-28","n":1290},
      {"t":"2013-09-03","n":1195},{"t":"2013-09-08","n":1170},{"t":"2013-09-13","n":1145},{"t":"2013-09-18","n":1175},{"t":"2013-09-23","n":1215},{"t":"2013-09-28","n":1250},
      {"t":"2013-10-03","n":1245},{"t":"2013-10-08","n":1265},{"t":"2013-10-13","n":1255},{"t":"2013-10-18","n":1280},{"t":"2013-10-23","n":1290},{"t":"2013-10-26","n":1315},
      {"t":"2013-11-03","n":1300},{"t":"2013-11-08","n":1315},{"t":"2013-11-13","n":1285},{"t":"2013-11-18","n":1250},{"t":"2013-11-23","n":1265},{"t":"2013-11-28","n":1235},
      {"t":"2013-12-03","n":1245},{"t":"2013-12-08","n":1230},{"t":"2013-12-13","n":1255},{"t":"2013-12-18","n":1265},{"t":"2013-12-23","n":1245},{"t":"2013-12-28","n":1095},
      {"t":"2014-01-04","n":1225},{"t":"2014-01-07","n":1205},{"t":"2014-01-10","n":1220},{"t":"2014-01-13","n":1190},{"t":"2014-01-16","n":1225},
      {"t":"2010-10-27","n":1159},{"t":"2010-10-04","n":1080},{"t":"2010-10-31","n":852},{"t":"2010-11-10","n":843},{"t":"2010-12-10","n":882},
      {"t":"2010-12-31","n":1156},{"t":"2011-01-03","n":1133},{"t":"2011-01-04","n":857},{"t":"2011-01-12","n":796},{"t":"2011-01-18","n":1101},
      {"t":"2011-01-29","n":1115},{"t":"2011-03-10","n":1112},{"t":"2011-03-15","n":1124},{"t":"2011-03-19","n":1133},{"t":"2011-03-16","n":1036},
      {"t":"2011-03-11","n":884},{"t":"2011-03-14","n":875},{"t":"2011-03-22","n":811},{"t":"2011-02-27","n":774},{"t":"2011-04-07","n":1072},
      {"t":"2011-04-18","n":1075},{"t":"2011-04-16","n":927},{"t":"2011-04-25","n":899},{"t":"2011-04-27","n":885},{"t":"2011-04-17","n":732},
      {"t":"2011-05-09","n":759},{"t":"2011-05-07","n":1089},{"t":"2011-05-12","n":980},{"t":"2011-05-17","n":993},{"t":"2011-06-21","n":804},
      {"t":"2011-06-23","n":996},{"t":"2011-07-07","n":669},{"t":"2011-07-21","n":1101},{"t":"2011-07-31","n":1027},{"t":"2011-08-04","n":1151},
      {"t":"2011-08-08","n":1093},{"t":"2011-08-23","n":966},{"t":"2011-09-06","n":969},{"t":"2011-09-20","n":991},{"t":"2011-10-05","n":1005},
      {"t":"2011-09-26","n":1142},{"t":"2011-09-27","n":1152},{"t":"2011-08-20","n":1159},{"t":"2011-10-20","n":1235},{"t":"2011-12-18","n":948},
      {"t":"2011-12-21","n":1068},{"t":"2011-12-27","n":1142},{"t":"2011-12-28","n":1172},{"t":"2012-01-05","n":1259},{"t":"2012-01-08","n":1259},
      {"t":"2012-01-23","n":1107},{"t":"2012-01-24","n":1098},{"t":"2012-01-22","n":1031},{"t":"2012-01-21","n":987},{"t":"2012-01-20","n":936},
      {"t":"2012-01-16","n":899},{"t":"2012-01-15","n":878},{"t":"2012-01-14","n":845},{"t":"2012-01-13","n":785},{"t":"2012-01-11","n":780},
      {"t":"2012-01-18","n":740},{"t":"2012-01-12","n":727},{"t":"2012-02-15","n":815},{"t":"2012-02-16","n":801},{"t":"2012-04-11","n":1072},
      {"t":"2012-02-19","n":1151},{"t":"2012-06-16","n":1212},{"t":"2012-07-03","n":1194},{"t":"2012-07-02","n":1173},{"t":"2012-07-01","n":1151},
      {"t":"2012-07-18","n":1180},{"t":"2012-08-09","n":1145},{"t":"2012-08-11","n":1115},{"t":"2012-07-04","n":1051},{"t":"2012-06-18","n":1015},
      {"t":"2012-07-28","n":841},{"t":"2012-08-12","n":555},{"t":"2012-09-29","n":1131},{"t":"2012-10-16","n":1093},{"t":"2012-11-18","n":1142},
      {"t":"2013-02-12","n":1138},{"t":"2013-02-21","n":1079},{"t":"2013-02-10","n":1054},{"t":"2013-02-02","n":1040},{"t":"2013-01-18","n":936},
      {"t":"2013-02-28","n":811},{"t":"2013-04-02","n":1180},{"t":"2013-04-30","n":1182},{"t":"2013-05-21","n":1151},{"t":"2013-05-22","n":1082},
      {"t":"2013-05-30","n":1101},{"t":"2013-05-24","n":1033},{"t":"2013-06-10","n":1026},{"t":"2013-06-17","n":1026},{"t":"2013-06-21","n":1107},
      {"t":"2013-06-30","n":1124},{"t":"2013-07-04","n":1114},{"t":"2013-07-21","n":1122},{"t":"2013-07-12","n":1156},{"t":"2013-07-16","n":1145},
      {"t":"2013-06-26","n":1173},{"t":"2013-04-04","n":801},{"t":"2013-04-03","n":762},{"t":"2013-04-05","n":738},{"t":"2013-07-13","n":820},
      {"t":"2013-07-10","n":785},{"t":"2013-07-11","n":716},{"t":"2013-07-12","n":706},{"t":"2013-08-24","n":926},{"t":"2013-09-11","n":832},
      {"t":"2013-09-17","n":1079},{"t":"2013-09-01","n":1107},{"t":"2013-08-31","n":1133},{"t":"2013-08-29","n":1151},{"t":"2013-11-05","n":933},
      {"t":"2013-11-06","n":1182},{"t":"2013-12-13","n":899},{"t":"2013-12-08","n":1124},{"t":"2013-12-21","n":1138},{"t":"2013-12-25","n":1107},
      {"t":"2013-12-28","n":1080},{"t":"2013-12-17","n":1089}
    ]
  },
  "vconcat": [
    {
      "width": 449,
      "height": 182,
      "data": {"name": "wcd"},
      "resolve": {"axis": {"x": "independent", "y": "independent"}},
      "layer": [
        {
          "mark": {"type": "square", "size": 6.5, "color": "#5252e6", "opacity": 1},
          "encoding": {
            "x": {"field": "t", "type": "temporal",
              "scale": {"domain": [{"year":2010,"month":7,"date":27},{"year":2014,"month":1,"date":2}]},
              "axis": {"orient": "bottom", "values": [{"year":2010,"month":12,"date":31},{"year":2011,"month":7,"date":2},{"year":2011,"month":12,"date":31},{"year":2012,"month":7,"date":1},{"year":2012,"month":12,"date":30},{"year":2013,"month":7,"date":1},{"year":2013,"month":12,"date":31}],
                "format": "%d/%m/%Y", "ticks": false, "labelFontSize": 11, "labelPadding": 2, "labelOverlap": false, "labelFlush": false, "labelBound": false,
                "title": "Time", "titleFontSize": 13.4, "titleAnchor": "end", "titleY": 23.5, "titleBaseline": "alphabetic"}},
            "y": {"field": "v", "type": "quantitative",
              "scale": {"domain": [0.7325, 1.022], "nice": false, "zero": false},
              "axis": {"orient": "left", "values": [0.75, 0.8, 0.85, 0.9, 0.95, 1], "format": "~g", "ticks": false, "labelFontSize": 8.7, "labelPadding": 4.5,
                "title": "# working WCD/ # deployed WCD", "titleFontSize": 13.4, "titleAnchor": "end", "titleX": -36.7, "titleBaseline": "middle"}}
          }
        },
        {
          "mark": {"type": "point", "opacity": 0},
          "encoding": {
            "x": {"field": "t", "type": "temporal",
              "axis": {"orient": "bottom", "values": [{"year":2010,"month":12,"date":31},{"year":2011,"month":7,"date":2},{"year":2011,"month":12,"date":31},{"year":2012,"month":7,"date":1},{"year":2012,"month":12,"date":30},{"year":2013,"month":7,"date":1},{"year":2013,"month":12,"date":31}],
                "labels": false, "tickSize": -5.5, "tickWidth": 1, "title": null}},
            "y": {"field": "v", "type": "quantitative",
              "axis": {"orient": "left", "values": [0.75, 0.8, 0.85, 0.9, 0.95, 1], "labels": false, "tickSize": -13, "tickWidth": 1, "title": null}}
          }
        },
        {
          "mark": {"type": "point", "opacity": 0},
          "encoding": {
            "x": {"field": "t", "type": "temporal",
              "axis": {"orient": "bottom", "values": [{"year":2010,"month":8,"date":30},{"year":2010,"month":10,"date":31},{"year":2011,"month":3,"date":1},{"year":2011,"month":5,"date":1},{"year":2011,"month":9,"date":1},{"year":2011,"month":11,"date":1},{"year":2012,"month":3,"date":1},{"year":2012,"month":5,"date":1},{"year":2012,"month":8,"date":31},{"year":2012,"month":10,"date":31},{"year":2013,"month":3,"date":1},{"year":2013,"month":5,"date":1},{"year":2013,"month":8,"date":31},{"year":2013,"month":10,"date":31}],
                "labels": false, "tickSize": -2.8, "tickWidth": 1, "title": null}},
            "y": {"field": "v", "type": "quantitative",
              "axis": {"orient": "left", "values": [0.74,0.76,0.77,0.78,0.79,0.81,0.82,0.83,0.84,0.86,0.87,0.88,0.89,0.91,0.92,0.93,0.94,0.96,0.97,0.98,0.99,1.01,1.02], "labels": false, "tickSize": -6.5, "tickWidth": 1, "title": null}}
          }
        }
      ]
    },
    {
      "width": 449,
      "height": 185,
      "data": {"name": "hex"},
      "resolve": {"axis": {"x": "independent", "y": "independent"}},
      "layer": [
        {
          "mark": {"type": "square", "size": 6.5, "color": "#5252e6", "opacity": 1},
          "encoding": {
            "x": {"field": "t", "type": "temporal",
              "scale": {"domain": [{"year":2010,"month":9,"date":29},{"year":2014,"month":1,"date":18}]},
              "axis": {"orient": "bottom", "values": [{"year":2010,"month":12,"date":31},{"year":2011,"month":7,"date":2},{"year":2011,"month":12,"date":31},{"year":2012,"month":7,"date":1},{"year":2012,"month":12,"date":30},{"year":2013,"month":7,"date":1},{"year":2013,"month":12,"date":31}],
                "format": "%d/%m/%Y", "ticks": false, "labelFontSize": 11, "labelPadding": 2, "labelOverlap": false, "labelFlush": false, "labelBound": false,
                "title": "Time", "titleFontSize": 14, "titleAnchor": "end", "titleY": 22, "titleBaseline": "alphabetic"}},
            "y": {"field": "n", "type": "quantitative",
              "scale": {"domain": [470, 1449], "nice": false, "zero": false},
              "axis": {"orient": "left", "values": [500,600,700,800,900,1000,1100,1200,1300,1400], "format": "d", "ticks": false, "labelFontSize": 8.7, "labelPadding": 4.5,
                "title": "no. of active hexagons", "titleFontSize": 14, "titleAnchor": "end", "titleX": -35.3, "titleBaseline": "middle"}}
          }
        },
        {
          "mark": {"type": "point", "opacity": 0},
          "encoding": {
            "x": {"field": "t", "type": "temporal",
              "axis": {"orient": "bottom", "values": [{"year":2010,"month":12,"date":31},{"year":2011,"month":7,"date":2},{"year":2011,"month":12,"date":31},{"year":2012,"month":7,"date":1},{"year":2012,"month":12,"date":30},{"year":2013,"month":7,"date":1},{"year":2013,"month":12,"date":31}],
                "labels": false, "tickSize": -5.5, "tickWidth": 1, "title": null}},
            "y": {"field": "n", "type": "quantitative",
              "axis": {"orient": "left", "values": [500,600,700,800,900,1000,1100,1200,1300,1400], "labels": false, "tickSize": -13, "tickWidth": 1, "title": null}}
          }
        },
        {
          "mark": {"type": "point", "opacity": 0},
          "encoding": {
            "x": {"field": "t", "type": "temporal",
              "axis": {"orient": "bottom", "values": [{"year":2010,"month":10,"date":31},{"year":2011,"month":3,"date":1},{"year":2011,"month":5,"date":1},{"year":2011,"month":9,"date":1},{"year":2011,"month":11,"date":1},{"year":2012,"month":3,"date":1},{"year":2012,"month":5,"date":1},{"year":2012,"month":8,"date":31},{"year":2012,"month":10,"date":31},{"year":2013,"month":3,"date":1},{"year":2013,"month":5,"date":1},{"year":2013,"month":8,"date":31},{"year":2013,"month":10,"date":31}],
                "labels": false, "tickSize": -2.8, "tickWidth": 1, "title": null}},
            "y": {"field": "n", "type": "quantitative",
              "axis": {"orient": "left", "values": [480,520,540,560,580,620,640,660,680,720,740,760,780,820,840,860,880,920,940,960,980,1020,1040,1060,1080,1120,1140,1160,1180,1220,1240,1260,1280,1320,1340,1360,1380,1420,1440], "labels": false, "tickSize": -6.5, "tickWidth": 1, "title": null}}
          }
        }
      ]
    }
  ]
}
